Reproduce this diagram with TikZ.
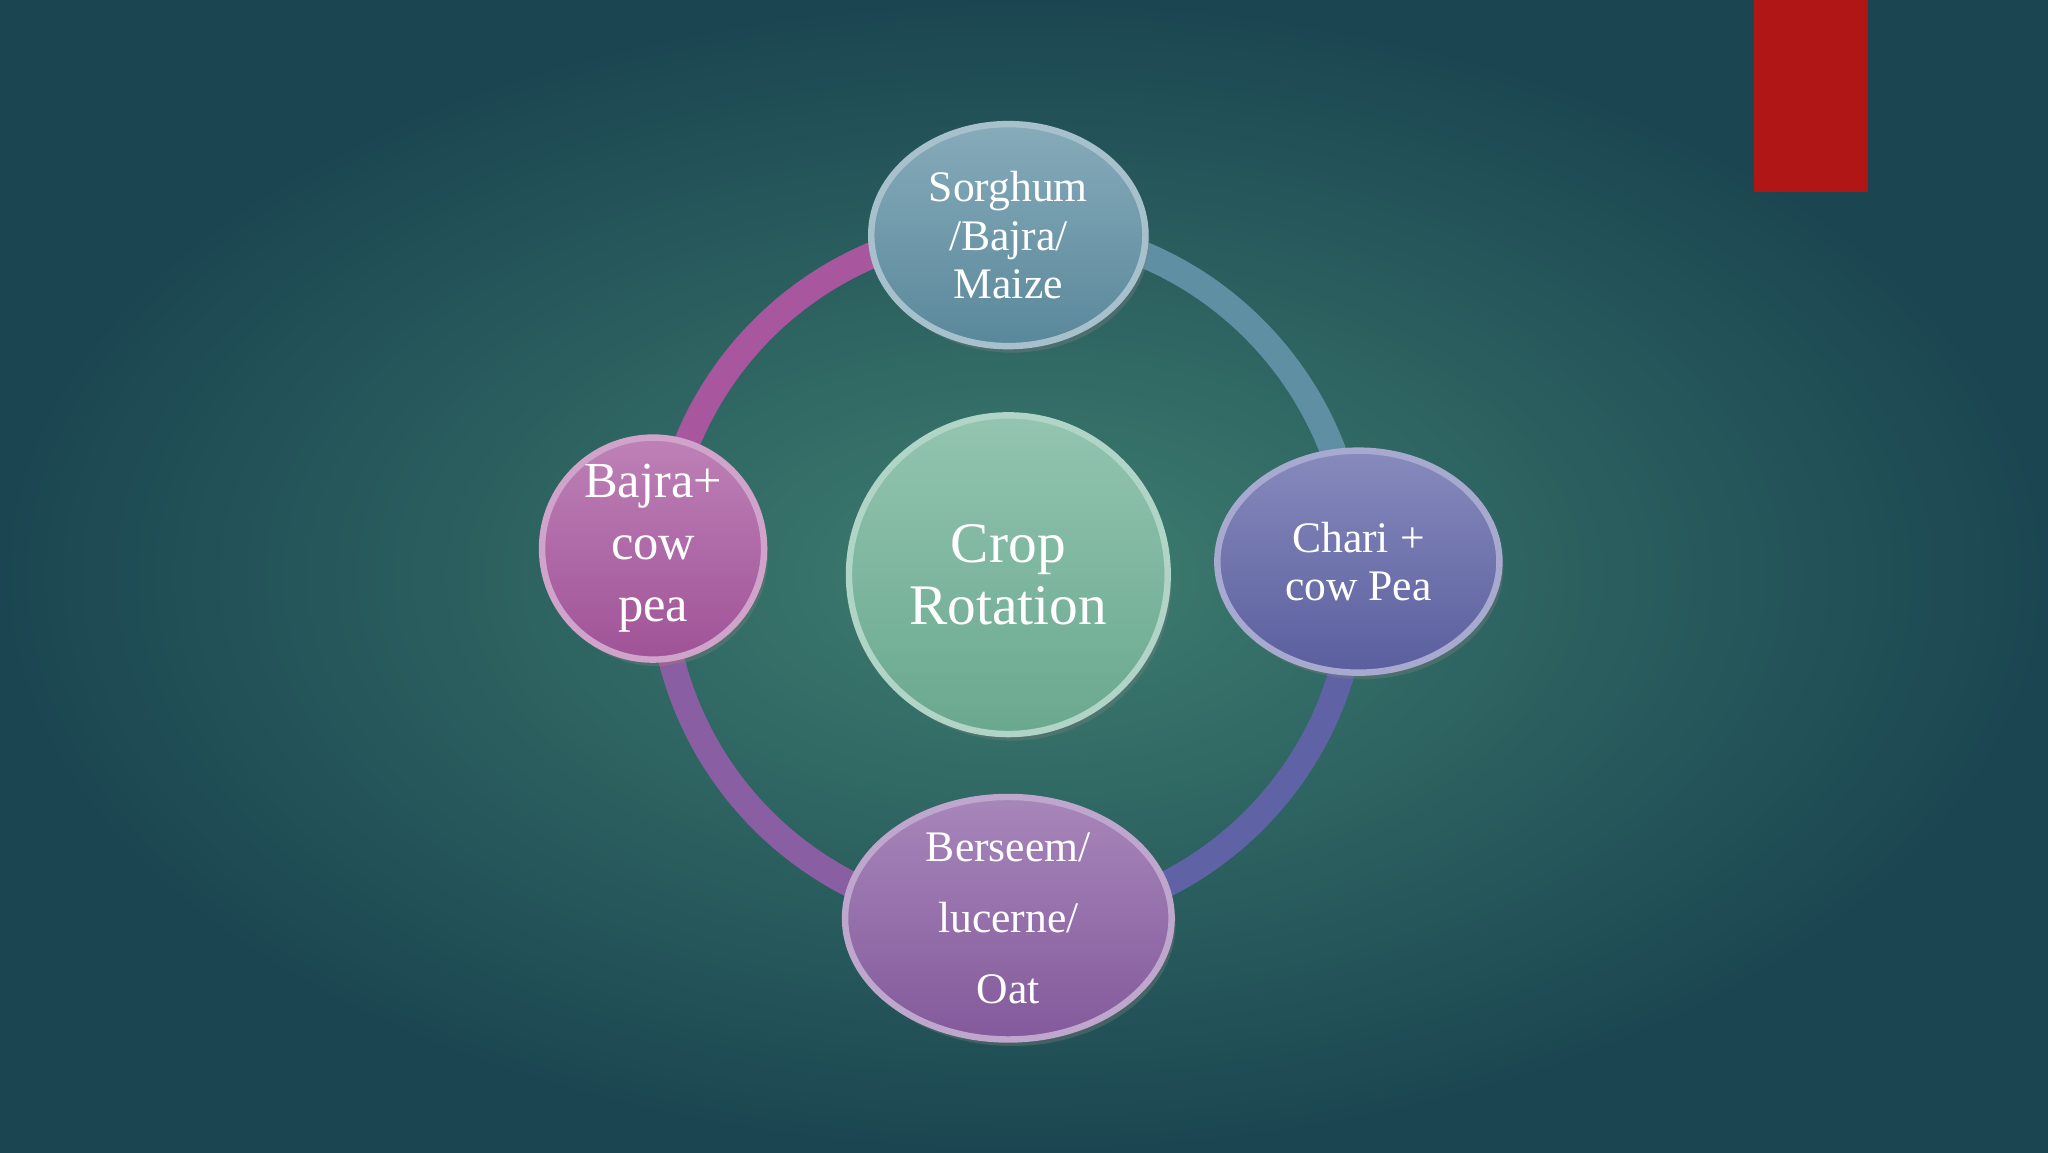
\documentclass[tikz,border=0pt]{standalone}
\usepackage{fontspec}
\setmainfont{Liberation Serif}
\usetikzlibrary{shadows,shapes.geometric}
\definecolor{bgin}{HTML}{3E7E70}
\definecolor{bgout}{HTML}{1B4651}
\definecolor{ctop}{HTML}{5E8FA3}
\definecolor{cright}{HTML}{5F63A6}
\definecolor{cbot}{HTML}{8A5EA3}
\definecolor{cleft}{HTML}{A8579F}
\definecolor{ccen}{HTML}{6FB196}
\definecolor{ared}{HTML}{B01616}
\tikzset{
  bub/.style={ellipse, draw=#1!55!white, line width=1.4pt, text=white, align=center,
    top color=#1!75!white, bottom color=#1!95!black,
    drop shadow={opacity=0.35, shadow xshift=0.03, shadow yshift=-0.05},
    inner sep=0pt, font=\fontsize{9.5}{10.5}\selectfont},
  seg/.style={line width=0.2cm, draw=#1}
}
\begin{document}
\begin{tikzpicture}
\useasboundingbox (0,0) rectangle (15.68,8.82);
\shade[inner color=bgin, outer color=bgout] (0,0) rectangle (15.68,8.82);
\fill[ared] (13.43,7.35) rectangle (14.30,8.82);
\coordinate (c) at (7.72,4.42);
\draw[seg=cleft] (c) ++(100:2.66) arc (100:195:2.66);
\draw[seg=ctop] (c) ++(80:2.66) arc (80:-10:2.66);
\draw[seg=cright] (c) ++(-15:2.66) arc (-15:-80:2.66);
\draw[seg=cbot] (c) ++(-100:2.66) arc (-100:-165:2.66);
\node[bub=ccen, circle, minimum size=2.44cm, font=\fontsize{12.5}{13.5}\selectfont] (cen) at (c) {Crop\\Rotation};
\node[bub=ctop, minimum width=2.1cm, minimum height=1.7cm] (top) at (7.72,7.02) {Sorghum\\/Bajra/\\Maize};
\node[bub=cright, minimum width=2.16cm, minimum height=1.7cm] (right) at (10.40,4.52) {Chari +\\cow Pea};
\node[bub=cbot, minimum width=2.5cm, minimum height=1.7cm, font=\fontsize{9.5}{15.5}\selectfont] (bot) at (7.72,1.79) {Berseem/\\lucerne/\\Oat};
\node[bub=cleft, circle, minimum size=1.7cm, font=\fontsize{11}{13.5}\selectfont] (left) at (5.00,4.62) {Bajra+\\cow\\pea};
\end{tikzpicture}
\end{document}
